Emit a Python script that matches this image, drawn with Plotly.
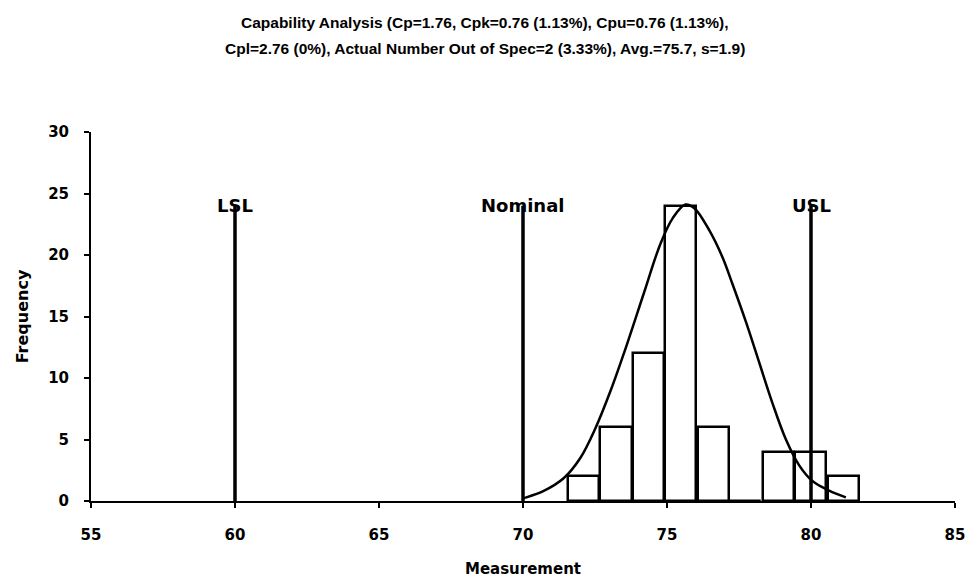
import plotly.graph_objects as go

# ---- data ----
bin_centers = [72.10, 73.23, 74.36, 75.48, 76.61, 77.74, 78.87, 79.99, 81.12]
counts = [2, 6, 12, 24, 6, 0, 4, 4, 2]

curve_x = [70.0, 70.08, 70.72, 71.41, 71.99, 72.51, 73.03, 73.61, 74.19, 74.77,
           75.2, 75.64, 75.95, 76.47, 76.93, 77.28, 77.75, 78.21, 78.67, 79.13,
           79.59, 80.06, 80.63, 81.21]
curve_y = [0.22, 0.27, 0.82, 1.85, 3.5, 5.89, 8.9, 12.74, 16.85, 20.9,
           23.0, 24.1, 23.8, 22.0, 19.8, 17.6, 14.5, 11.2, 7.9, 5.0,
           2.9, 1.6, 0.85, 0.3]

spec_names = ["LSL", "Nominal", "USL"]
spec_values = [60, 70, 80]
spec_height = 24

x_ticks = [55, 60, 65, 70, 75, 80, 85]
y_ticks = [0, 5, 10, 15, 20, 25, 30]

title_lines = [
    "Capability Analysis (Cp=1.76, Cpk=0.76 (1.13%), Cpu=0.76 (1.13%),",
    "Cpl=2.76 (0%), Actual Number Out of Spec=2 (3.33%), Avg.=75.7, s=1.9)",
]

BOLD = "DejaVu Sans"
TITLE_FONT = "Liberation Sans Narrow, Arial Narrow, Liberation Sans, sans-serif"

fig = go.Figure()

fig.add_trace(go.Bar(
    x=bin_centers, y=counts, width=1.08,
    marker=dict(color="white", line=dict(color="black", width=2.5)),
    showlegend=False, hoverinfo="skip",
))

fig.add_trace(go.Scatter(
    x=curve_x, y=curve_y, mode="lines",
    line=dict(color="black", width=2.5, shape="spline", smoothing=1.0),
    showlegend=False, hoverinfo="skip",
))

for name, v in zip(spec_names, spec_values):
    fig.add_trace(go.Scatter(
        x=[v, v], y=[0, spec_height], mode="lines",
        line=dict(color="black", width=3.5),
        showlegend=False, hoverinfo="skip",
    ))
    fig.add_annotation(
        x=v, y=spec_height, text="<b>%s</b>" % name, showarrow=False,
        xanchor="center", yanchor="middle",
        font=dict(family=BOLD, size=18, color="black"),
    )

# title as two centred lines above the plot
PAGE_CENTER = (484.5 - 91) / (955 - 91)
for i, line in enumerate(title_lines):
    fig.add_annotation(
        x=PAGE_CENTER, xref="paper", y=1, yref="paper",
        xanchor="center", yanchor="middle",
        yshift=110 - 26 * i,
        text="<b>%s</b>" % line, showarrow=False,
        font=dict(family=TITLE_FONT, size=15.5, color="black"),
    )

fig.update_layout(
    width=969, height=580,
    margin=dict(l=91, r=14, t=132, b=79),
    paper_bgcolor="white", plot_bgcolor="white",
    bargap=0,
    xaxis=dict(
        range=[55, 85], tickvals=x_ticks,
        ticktext=["<b>%d</b>" % t for t in x_ticks],
        showgrid=False, zeroline=False, automargin=False,
        showline=True, linecolor="black", linewidth=2,
        ticks="outside", ticklen=5, tickwidth=2, tickcolor="black",
        ticklabelstandoff=14,
        tickfont=dict(family=BOLD, size=15, color="black"),
        title=dict(text="<b>Measurement</b>", standoff=20,
                   font=dict(family=BOLD, size=15, color="black")),
    ),
    yaxis=dict(
        range=[0, 30], tickvals=y_ticks,
        ticktext=["<b>%d</b>" % t for t in y_ticks],
        showgrid=False, zeroline=False, automargin=False,
        showline=True, linecolor="black", linewidth=2,
        ticks="outside", ticklen=5, tickwidth=2, tickcolor="black",
        ticklabelstandoff=12,
        tickfont=dict(family=BOLD, size=15, color="black"),
        title=dict(text="<b>Frequency</b>", standoff=16,
                   font=dict(family=BOLD, size=16, color="black")),
    ),
)

fig.write_html("out.html")
